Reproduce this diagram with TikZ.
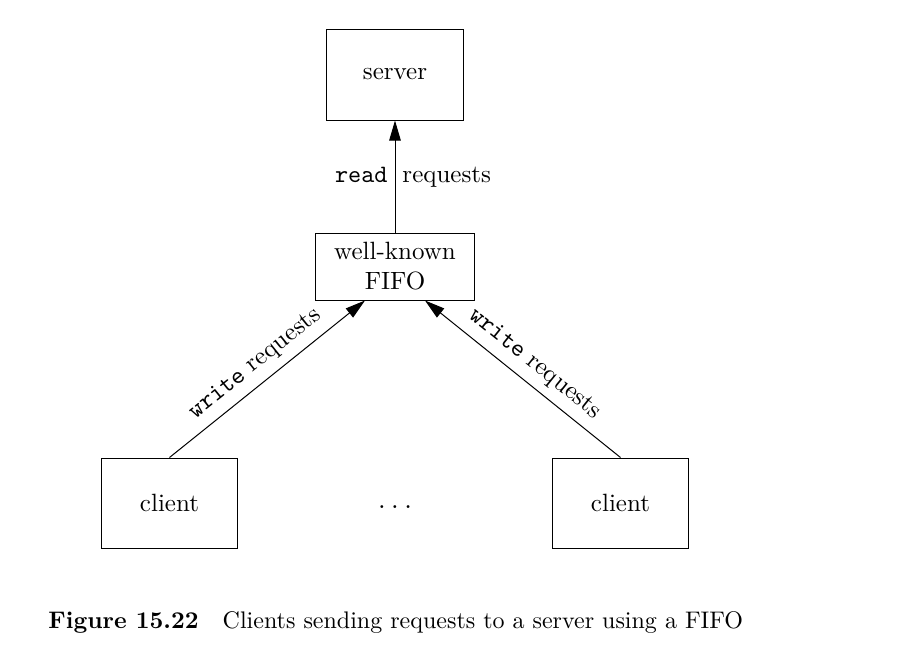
\documentclass[tikz,border=0pt]{standalone}
\usetikzlibrary{arrows.meta}
\tikzset{
  box/.style={draw, line width=0.4pt, inner sep=0pt, align=center},
  flow/.style={-{Triangle[length=8pt,width=4.6pt]}, line width=0.4pt},
}
\begin{document}
\begin{tikzpicture}[x=0.4pt, y=-0.4pt]
  \useasboundingbox (0,0) rectangle (916,668);
  % boxes
  \node[box, minimum width=54.4pt, minimum height=36.4pt] (server) at (395,74.5) {server};
  \node[box, minimum width=63.2pt, minimum height=26.8pt] (fifo) at (395,266.5) {well-known\\FIFO};
  \node[box, minimum width=54pt, minimum height=36pt] (client1) at (169.5,503) {client};
  \node[box, minimum width=54pt, minimum height=36pt] (client2) at (620.5,503) {client};
  \node[anchor=base, font=\large] (dots) at (395,508) {$\ldots$};

  % arrow ends on the FIFO
  \coordinate (fifoL) at ([xshift=-12pt]fifo.south);
  \coordinate (fifoR) at ([xshift=12pt]fifo.south);

  % requests
  \draw[flow] (fifo.north) -- (server.south)
    node[midway, anchor=base east, yshift=-2.2pt, inner xsep=2.8pt] {\texttt{read}}
    node[midway, anchor=base west, yshift=-2.2pt, inner xsep=2.8pt] {requests};
  \draw[flow] (client1.north) -- node[sloped, above] {\texttt{write} requests} (fifoL);
  \draw[flow] (client2.north) -- node[sloped, above] {\texttt{write} requests} (fifoR);

  % caption
  \node[anchor=base west, inner sep=0pt] (caption) at (48,628)
    {\fontsize{9.6}{12}\selectfont\textbf{Figure 15.22}\quad Clients sending requests to a server using a FIFO};
\end{tikzpicture}
\end{document}
